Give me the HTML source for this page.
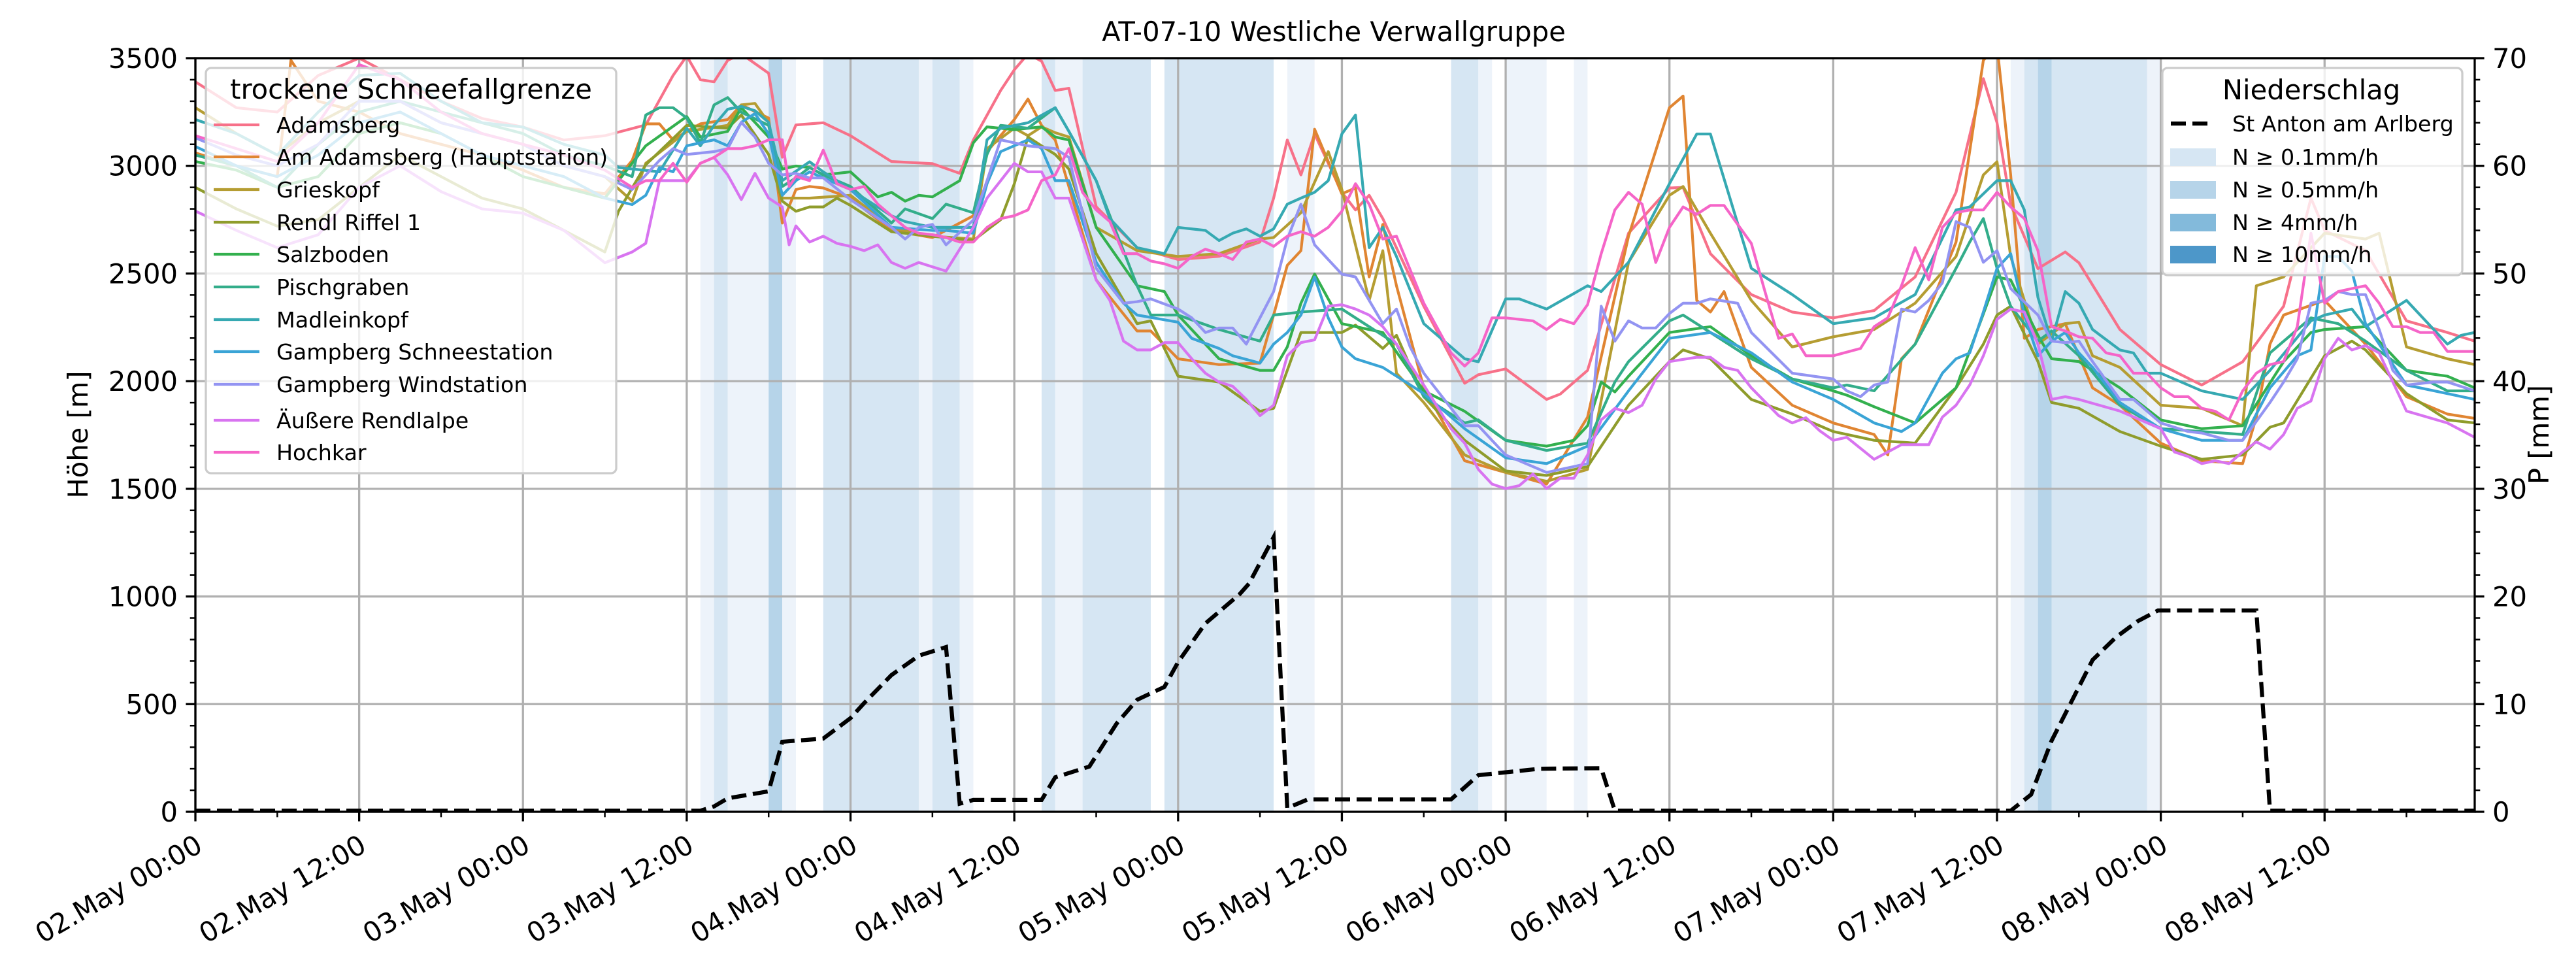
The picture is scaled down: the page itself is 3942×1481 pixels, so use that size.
<!DOCTYPE html>
<html><head><meta charset="utf-8"><style>
html,body{margin:0;padding:0;background:#fff;}
svg{display:block;font-family:"DejaVu Sans","Liberation Sans",sans-serif;}
</style></head><body>
<svg id="chart" width="3942" height="1481" viewBox="0 0 3942 1481" xmlns="http://www.w3.org/2000/svg">
<defs><clipPath id="plotclip"><rect x="299" y="89" width="3488" height="1153"/></clipPath></defs>
<rect x="0" y="0" width="3942" height="1481" fill="#fff"/>
<g id="bands" clip-path="url(#plotclip)"></g>
<g id="grid"></g>
<g id="lines" clip-path="url(#plotclip)"></g>
<g id="precip" clip-path="url(#plotclip)"></g>
<g id="axes"></g>
<text x="2041" y="63" font-size="41.7" text-anchor="middle">AT-07-10 Westliche Verwallgruppe</text>
<text transform="translate(134,665) rotate(-90)" font-size="41.7" text-anchor="middle">Höhe [m]</text>
<text transform="translate(3900,665) rotate(-90)" font-size="41.7" text-anchor="middle">P [mm]</text>
<g id="legend1"></g>
<g id="legend2"></g>
</svg>
<script>
const seriesNames = ["Adamsberg","Am Adamsberg (Hauptstation)","Grieskopf","Rendl Riffel 1","Salzboden","Pischgraben","Madleinkopf","Gampberg Schneestation","Gampberg Windstation","Äußere Rendlalpe","Hochkar"];
const seriesColors = ["#f77189","#e08532","#b59d32","#8f9c2c","#33b04e","#33ad8a","#36a9b2","#3aa4d6","#9394f2","#d874f0","#f565c8"];
const sAdamsberg = [[0,3390],[3,3270],[6,3250],[9,3420],[12,3500],[15,3400],[18,3300],[21,3220],[24,3180],[27,3120],[30,3140],[33,3190],[35,3420],[36,3510],[37,3400],[38,3390],[39,3490],[40,3520],[42,3430],[43,3040],[44,3190],[46,3200],[48,3140],[51,3020],[54,3010],[56,2965],[57,3120],[59,3350],[60,3446],[61,3520],[62,3486],[63,3350],[64,3360],[66,2810],[69,2620],[72,2565],[75,2580],[78,2646],[79,2850],[80,3120],[81,2958],[82,3148],[84,2877],[85,2795],[86,2863],[87,2755],[90,2348],[93,1990],[94,2030],[96,2057],[99,1915],[100,1940],[102,2050],[105,2687],[108,2897],[109,2900],[111,2592],[114,2402],[117,2321],[120,2294],[123,2328],[126,2484],[129,2877],[131,3405],[132,3200],[133,2820],[135,2523],[137,2600],[138,2550],[141,2240],[144,2077],[147,1982],[150,2090],[153,2348],[155,2850],[156,2700],[159,2606],[162,2280],[165,2226],[167,2186]];
const sAmAdamsberg = [[0,3060],[3,3000],[6,2950],[7,3490],[9,3300],[12,3250],[15,3150],[18,3100],[21,3050],[24,2980],[27,2900],[30,2870],[32,3025],[33,3195],[34,3195],[35,3120],[36,3160],[37,3195],[39,3215],[40,3283],[42,3222],[43,2734],[44,2890],[45,2904],[46,2897],[48,2850],[51,2700],[54,2667],[57,2768],[58,3066],[60,3215],[61,3310],[62,3188],[63,3120],[66,2470],[69,2233],[70,2233],[72,2104],[75,2077],[78,2084],[79,2307],[80,2538],[81,2606],[82,3170],[84,2870],[85,2897],[86,2484],[87,2728],[88,2443],[90,1969],[93,1630],[96,1576],[99,1522],[102,1833],[105,2673],[108,3270],[109,3324],[110,2375],[111,2321],[112,2416],[114,2064],[117,1888],[120,1806],[123,1752],[124,1657],[125,2104],[126,2172],[129,2646],[131,3490],[132,3560],[133,2958],[134,2199],[135,2240],[137,2267],[138,2118],[139,1969],[141,1888],[144,1712],[147,1630],[150,1617],[151,1833],[152,2172],[153,2307],[156,2375],[159,2172],[162,1928],[165,1847],[167,1827]];
const sGrieskopf = [[0,3270],[3,3150],[6,3050],[9,3200],[12,3300],[15,3300],[18,3200],[21,3150],[24,3100],[27,3000],[30,2950],[32,2836],[33,3012],[36,3160],[39,3188],[40,3283],[41,3290],[42,3200],[43,2850],[45,2850],[48,2863],[51,2714],[54,2673],[57,2660],[58,3080],[60,3175],[61,3140],[62,3181],[63,3154],[64,3134],[66,2714],[69,2606],[72,2579],[75,2592],[78,2660],[79,2667],[81,2782],[83,3066],[84,2890],[86,2375],[87,2606],[88,2037],[90,1901],[93,1657],[96,1576],[99,1535],[102,1590],[105,2552],[108,2863],[109,2904],[111,2687],[114,2375],[117,2159],[120,2206],[123,2240],[126,2362],[129,2579],[131,2958],[132,3019],[133,2579],[135,2172],[137,2267],[138,2274],[139,2118],[141,2064],[144,1888],[147,1874],[150,1793],[151,2443],[153,2484],[156,2687],[159,2660],[160,2687],[162,2159],[165,2104],[167,2077]];
const sRendl = [[0,2900],[3,2800],[6,2720],[9,2750],[12,2900],[15,3050],[18,2950],[21,2850],[24,2800],[27,2700],[30,2600],[31,2789],[33,3005],[36,3188],[39,3175],[40,3236],[42,3053],[43,2836],[44,2789],[45,2809],[46,2809],[47,2850],[48,2816],[51,2694],[54,2673],[57,2653],[59,2750],[60,2917],[61,3134],[62,3093],[63,3053],[64,2985],[66,2592],[69,2267],[70,2280],[72,2023],[75,1996],[78,1860],[79,1874],[81,2226],[84,2226],[85,2260],[87,2152],[88,2213],[90,1928],[93,1725],[96,1583],[99,1562],[102,1603],[105,1888],[108,2091],[109,2145],[111,2104],[114,1915],[117,1847],[120,1766],[123,1725],[126,1712],[129,1969],[131,2172],[132,2307],[133,2348],[135,2091],[136,1901],[138,1874],[141,1766],[144,1698],[147,1637],[150,1657],[152,1786],[153,1806],[156,2118],[158,2186],[159,2145],[162,1942],[165,1820],[167,1806]];
const sSalzboden = [[0,3020],[3,2980],[6,2900],[9,2950],[12,3150],[15,3200],[18,3150],[21,3050],[24,2950],[27,2900],[30,2850],[33,3093],[36,3229],[37,3134],[39,3160],[40,3270],[42,3134],[43,2985],[44,2999],[45,2992],[46,2958],[48,2972],[50,2856],[51,2877],[52,2836],[53,2863],[54,2856],[56,2931],[57,3107],[58,3181],[60,3168],[62,3181],[63,3134],[64,3120],[66,2714],[69,2443],[71,2416],[72,2307],[75,2104],[78,2050],[79,2050],[80,2159],[81,2362],[82,2497],[84,2267],[87,2226],[90,1955],[93,1860],[96,1725],[99,1698],[101,1725],[102,1793],[103,1996],[104,1950],[105,2023],[108,2226],[111,2253],[114,2118],[117,2010],[120,1955],[121,1935],[123,1881],[126,1806],[129,1969],[132,2484],[133,2470],[135,2213],[136,2104],[138,2091],[141,1969],[144,1820],[147,1779],[150,1793],[153,2091],[155,2226],[156,2240],[159,2253],[162,2050],[165,2023],[167,1969]];
const sPischgraben = [[0,3050],[3,3000],[6,2900],[9,3100],[12,3250],[15,3300],[18,3250],[21,3200],[24,3150],[27,3050],[30,3000],[32,2950],[33,3236],[34,3270],[35,3270],[36,3222],[37,3107],[38,3283],[39,3317],[40,3249],[42,3188],[43,2904],[44,2944],[45,2992],[46,2958],[48,2904],[51,2734],[52,2800],[54,2755],[55,2822],[57,2782],[58,3053],[59,3188],[61,3175],[63,3270],[64,3160],[66,2931],[69,2443],[70,2307],[72,2307],[75,2240],[78,2186],[79,2307],[81,2321],[84,2335],[86,2253],[88,2172],[90,1928],[93,1806],[94,1820],[96,1725],[99,1678],[102,1712],[104,1996],[105,2091],[108,2280],[109,2307],[111,2226],[114,2104],[117,2010],[120,1969],[121,1982],[123,1955],[126,2172],[129,2524],[130,2646],[131,2755],[132,2524],[133,2348],[135,2186],[136,2233],[138,2118],[141,1888],[144,1779],[147,1766],[150,1752],[152,2131],[155,2294],[157,2267],[159,2186],[162,2050],[165,1955],[167,1955]];
const sMadleinkopf = [[0,3215],[3,3150],[6,3050],[9,3250],[12,3420],[15,3430],[18,3300],[21,3200],[24,3180],[27,3100],[30,3050],[31,2992],[34,2972],[36,3175],[37,3093],[38,3188],[39,3263],[40,3276],[41,3256],[42,3202],[43,2931],[45,3019],[46,2972],[48,2890],[51,2768],[52,2741],[54,2714],[57,2714],[58,3121],[59,3175],[61,3200],[63,3270],[64,3160],[66,2931],[67,2755],[69,2620],[71,2592],[72,2714],[74,2700],[75,2653],[76,2687],[77,2707],[78,2673],[79,2707],[80,2822],[81,2850],[82,2877],[83,2931],[84,3148],[85,3236],[86,2620],[87,2714],[88,2579],[90,2267],[93,2104],[94,2090],[96,2382],[97,2382],[99,2335],[102,2443],[103,2416],[105,2552],[108,2917],[110,3148],[111,3148],[114,2524],[117,2402],[120,2267],[123,2294],[126,2402],[129,2795],[130,2809],[132,2931],[133,2931],[134,2795],[135,2389],[136,2186],[137,2416],[138,2362],[139,2240],[141,2145],[142,2131],[143,2037],[144,2037],[147,1955],[150,1915],[152,2050],[155,2280],[156,2307],[158,2335],[159,2253],[162,2375],[165,2172],[166,2213],[167,2226]];
const sGampSchnee = [[0,3090],[3,3000],[6,2950],[9,3050],[12,3200],[15,3250],[18,3150],[21,3050],[24,3000],[27,2950],[30,2850],[32,2820],[33,2863],[34,2992],[35,2972],[36,3093],[38,3121],[39,3093],[40,3202],[41,3243],[42,3148],[43,2863],[44,2931],[45,2972],[46,2944],[48,2890],[51,2714],[54,2700],[55,2700],[57,2687],[58,2917],[59,3066],[61,3121],[62,3080],[63,2931],[64,2931],[66,2552],[68,2362],[69,2307],[72,2274],[73,2199],[75,2152],[76,2118],[78,2084],[79,2172],[80,2226],[81,2307],[82,2484],[83,2294],[84,2159],[85,2104],[87,2064],[90,1942],[93,1779],[96,1644],[99,1617],[102,1698],[105,1955],[108,2199],[111,2226],[114,2132],[117,1996],[120,1915],[123,1806],[125,1766],[126,1806],[128,2037],[129,2104],[130,2131],[131,2321],[132,2524],[133,2592],[134,2307],[135,2118],[136,2186],[137,2226],[138,2131],[139,2064],[141,1901],[144,1779],[147,1725],[150,1725],[152,1969],[154,2118],[155,2145],[156,2579],[157,2579],[158,2511],[159,2267],[162,1982],[165,1942],[167,1915]];
const sGampWind = [[0,3130],[3,3050],[6,3000],[9,3100],[12,3300],[15,3300],[18,3200],[21,3150],[24,3100],[27,3000],[30,2950],[32,2890],[34,3025],[35,3080],[36,3053],[38,3066],[39,3080],[40,3202],[41,3134],[42,3012],[43,2958],[44,2965],[45,2944],[46,2944],[48,2843],[51,2714],[52,2660],[53,2714],[54,2728],[55,2633],[57,2748],[58,2931],[59,3121],[61,3093],[63,3080],[64,3039],[66,2524],[68,2362],[69,2369],[70,2382],[72,2335],[73,2294],[74,2226],[75,2247],[76,2247],[77,2172],[79,2416],[80,2660],[81,2822],[82,2633],[84,2497],[85,2484],[86,2375],[87,2267],[88,2335],[89,2159],[90,2037],[93,1793],[94,1793],[96,1657],[99,1576],[102,1617],[103,2348],[104,2186],[105,2280],[106,2247],[107,2247],[108,2314],[109,2362],[110,2362],[111,2382],[113,2362],[114,2226],[117,2037],[120,2010],[121,1955],[122,1928],[123,1982],[124,1996],[125,2335],[126,2321],[127,2375],[128,2457],[129,2741],[130,2714],[131,2552],[132,2606],[133,2430],[135,2307],[136,2186],[137,2179],[138,2186],[139,2091],[141,1915],[142,1915],[144,1806],[146,1766],[147,1759],[149,1725],[150,1725],[152,1901],[153,1996],[154,2104],[155,2362],[156,2375],[157,2416],[158,2402],[159,2402],[160,2240],[161,2050],[162,1982],[164,1996],[165,1996],[167,1955]];
const sRendlalpe = [[0,2790],[3,2700],[6,2620],[9,2680],[12,2900],[15,3000],[18,2880],[21,2800],[24,2780],[27,2700],[30,2550],[32,2600],[33,2640],[34,2931],[36,2931],[37,3012],[38,3039],[39,2958],[40,2843],[41,2965],[42,2850],[43,2809],[43.5,2633],[44,2721],[45,2646],[46,2673],[47,2640],[48,2626],[49,2606],[50,2633],[51,2551],[52,2524],[53,2551],[54,2531],[55,2511],[57,2714],[58,2850],[59,2931],[60,3012],[61,2972],[62,2972],[63,2850],[64,2850],[66,2470],[67,2375],[68,2186],[69,2145],[70,2145],[71,2179],[72,2179],[73,2104],[74,2037],[75,1996],[76,1976],[77,1915],[78,1840],[79,1888],[80,2118],[81,2179],[82,2192],[83,2348],[84,2355],[85,2335],[86,2307],[87,2253],[88,2172],[90,1982],[92,1779],[93,1712],[94,1590],[95,1522],[96,1501],[97,1515],[98,1569],[99,1501],[100,1549],[101,1549],[102,1657],[103,1820],[104,1874],[105,1854],[106,1888],[107,2010],[108,2091],[110,2111],[111,2111],[112,2064],[113,2050],[114,1969],[116,1840],[117,1806],[118,1830],[119,1770],[120,1725],[121,1739],[123,1637],[124,1671],[125,1705],[127,1705],[128,1833],[129,1888],[130,1982],[131,2118],[132,2287],[133,2335],[134,2321],[135,2172],[136,1915],[137,1928],[138,1915],[141,1861],[144,1779],[145,1671],[146,1650],[147,1617],[148,1630],[149,1617],[150,1671],[151,1718],[152,1684],[153,1752],[154,1874],[155,1908],[156,2104],[157,2199],[158,2145],[159,2165],[160,2131],[162,1861],[165,1806],[167,1739]];
const sHochkar = [[0,3140],[3,3080],[6,3020],[9,3200],[12,3470],[15,3400],[18,3250],[21,3150],[24,3100],[27,3050],[30,2980],[32,2900],[33,2931],[34,2931],[35,3012],[36,2924],[37,3012],[38,3039],[39,3080],[40,3080],[41,3093],[42,3121],[43,3121],[43.5,2904],[44,2951],[45,2931],[46,3073],[47,2917],[48,2890],[49,2904],[50,2822],[51,2768],[52,2714],[53,2687],[54,2680],[55,2667],[56,2646],[57,2646],[58,2714],[59,2755],[60,2768],[61,2795],[62,2931],[63,2958],[64,3080],[65,2877],[66,2795],[67,2741],[68,2592],[69,2592],[70,2558],[71,2545],[72,2524],[73,2579],[74,2613],[75,2592],[76,2565],[77,2646],[78,2660],[79,2626],[80,2673],[81,2694],[82,2673],[83,2714],[84,2789],[85,2917],[86,2822],[87,2660],[88,2673],[90,2362],[92,2131],[93,2070],[94,2131],[95,2294],[96,2294],[98,2280],[99,2240],[100,2287],[101,2267],[102,2355],[103,2592],[104,2795],[105,2877],[106,2822],[107,2551],[108,2714],[109,2809],[110,2775],[111,2816],[112,2816],[113,2728],[114,2640],[115,2416],[116,2199],[117,2219],[118,2118],[120,2118],[122,2152],[123,2253],[124,2294],[125,2443],[126,2620],[127,2470],[128,2714],[129,2782],[130,2795],[131,2795],[132,2877],[133,2809],[134,2755],[135,2606],[136,2253],[137,2233],[138,2206],[139,2199],[140,2131],[141,2118],[142,2037],[143,2037],[144,1969],[145,1928],[146,1928],[147,1874],[148,1860],[149,1820],[150,1955],[151,2037],[152,2077],[153,2091],[154,2253],[155,2687],[156,2362],[157,2416],[158,2430],[159,2443],[160,2362],[161,2253],[162,2253],[163,2226],[164,2226],[165,2138],[167,2138]];
const precipStAnton = [[0,0.1],[37,0.1],[38,0.5],[39,1.25],[42,1.9],[43,6.5],[46,6.8],[48,8.7],[49,10.1],[51,12.7],[53,14.5],[55,15.3],[56,0.75],[57,1.1],[62,1.1],[63,3.2],[65.5,4.2],[67.5,8.2],[69,10.4],[71,11.6],[72,13.9],[74,17.5],[76.5,20.2],[77.2,21.2],[79,25.5],[80,0.35],[81.5,1.15],[92,1.15],[94,3.4],[98.5,4.0],[103,4.05],[104,0.1],[133,0.1],[134.5,1.6],[136,6.6],[139,14.1],[140.7,16.2],[142.3,17.7],[143.8,18.7],[151,18.7],[152,0.1],[167,0.1]];
const bandStart = [37,38,39,42,43,46,53,54,56,62,63,65,71,80,92,94,96,101,133,134,135,136,143];
const bandEnd   = [38,39,42,43,44,53,54,56,57,63,65,70,79,82,94,95,99,102,134,135,136,143,144];
const bandLevel = [0,1,0,2,0,1,0,1,0,1,0,1,1,0,1,0,0,0,0,1,2,1,0];
const xTickLabels = ["02.May 00:00","02.May 12:00","03.May 00:00","03.May 12:00","04.May 00:00","04.May 12:00","05.May 00:00","05.May 12:00","06.May 00:00","06.May 12:00","07.May 00:00","07.May 12:00","08.May 00:00","08.May 12:00"];
const yTicks = [0,500,1000,1500,2000,2500,3000,3500];
const y2Ticks = [0,10,20,30,40,50,60,70];
const legendLevels = ["N ≥ 0.1mm/h","N ≥ 0.5mm/h","N ≥ 4mm/h","N ≥ 10mm/h"];

const allSeries = [sAdamsberg,sAmAdamsberg,sGrieskopf,sRendl,sSalzboden,sPischgraben,sMadleinkopf,sGampSchnee,sGampWind,sRendlalpe,sHochkar];
const bandColors = ["#edf3fa","#d6e6f3","#b6d4e9","#83badb","#4d97c9"];
const NS="http://www.w3.org/2000/svg";
const L=299,R=3787,T=89,B=1242,HMAX=167;
function X(h){return L+h*(R-L)/HMAX;}
function Y(v){return B-v*(B-T)/3500;}
function Y2(p){return B-p*(B-T)/70;}
function mk(tag,attrs,parent){const e=document.createElementNS(NS,tag);for(const k in attrs)e.setAttribute(k,attrs[k]);parent.appendChild(e);return e;}
const gB=document.getElementById('bands'),gG=document.getElementById('grid'),gL=document.getElementById('lines'),gP=document.getElementById('precip'),gA=document.getElementById('axes');
for(let i=0;i<bandStart.length;i++){
  const r=mk('rect',{x:X(bandStart[i]),y:T,width:X(bandEnd[i])-X(bandStart[i]),height:B-T,fill:bandColors[bandLevel[i]]},gB);
  
  
}
for(let i=0;i<xTickLabels.length;i++){
  const x=X(i*12);
  const l=mk('line',{x1:x,x2:x,y1:T,y2:B,stroke:'#b0b0b0','stroke-width':3.3},gG);
  
  
}
for(const v of yTicks){
  const l=mk('line',{x1:L,x2:R,y1:Y(v),y2:Y(v),stroke:'#b0b0b0','stroke-width':3.3},gG);
  
  
}
allSeries.forEach((s,i)=>{
  const p=mk('polyline',{points:s.map(d=>X(d[0]).toFixed(1)+','+Y(d[1]).toFixed(1)).join(' '),fill:'none',stroke:seriesColors[i],'stroke-width':4.2,'stroke-linejoin':'round'},gL);
  
  
});
const pl=mk('polyline',{points:precipStAnton.map(d=>X(d[0]).toFixed(1)+','+Y2(d[1]).toFixed(1)).join(' '),fill:'none',stroke:'#000','stroke-width':6.25,'stroke-dasharray':'23 10'},gP);


const fr=mk('rect',{x:L,y:T,width:R-L,height:B-T,fill:'none',stroke:'#000','stroke-width':3.3},gA);


for(let h=0;h<=HMAX;h+=6){
  const major=h%12===0;
  const t=mk('line',{x1:X(h),x2:X(h),y1:B,y2:B+(major?14.6:8.3),stroke:'#000','stroke-width':major?3.3:2.5},gA);
  
  
}
xTickLabels.forEach((lab,i)=>{
  const x=X(i*12);
  const t=mk('text',{transform:`translate(${x-2},${B+32}) rotate(-30)`,'font-size':41.7,'text-anchor':'end','dominant-baseline':'hanging'},gA);
  t.textContent=lab;
  
  
});
for(let v=0;v<=3500;v+=100){
  const major=v%500===0;
  const t=mk('line',{x1:L-(major?14.6:8.3),x2:L,y1:Y(v),y2:Y(v),stroke:'#000','stroke-width':major?3.3:2.5},gA);
  
  
}
yTicks.forEach(v=>{
  const t=mk('text',{x:L-27,y:Y(v)+15,'font-size':41.7,'text-anchor':'end'},gA);
  t.textContent=String(v);
  
  
});
for(let p=0;p<=70;p+=2){
  const major=p%10===0;
  const t=mk('line',{x1:R,x2:R+(major?14.6:8.3),y1:Y2(p),y2:Y2(p),stroke:'#000','stroke-width':major?3.3:2.5},gA);
  
  
}
y2Ticks.forEach(p=>{
  const t=mk('text',{x:R+27,y:Y2(p)+15,'font-size':41.7,'text-anchor':'start'},gA);
  t.textContent=String(p);
  
  
});
const g1=document.getElementById('legend1');
const b1=mk('rect',{x:315,y:104,width:628,height:620,rx:8,fill:'#fff','fill-opacity':0.8,stroke:'#cccccc','stroke-width':3.3},g1);


const t1=mk('text',{x:629,y:151,'font-size':41.7,'text-anchor':'middle'},g1);
t1.textContent='trockene Schneefallgrenze';


const legY=[191,240,290,340,389,439,489,538,588,643,692];
seriesNames.forEach((n,i)=>{
  const l=mk('line',{x1:327,x2:397,y1:legY[i],y2:legY[i],stroke:seriesColors[i],'stroke-width':4.2},g1);
  
  
  const t=mk('text',{x:423,y:legY[i]+12,'font-size':33.3},g1);
  t.textContent=n;
  
  
});
const g2=document.getElementById('legend2');
const b2=mk('rect',{x:3309,y:104,width:459,height:317,rx:8,fill:'#fff','fill-opacity':0.8,stroke:'#cccccc','stroke-width':3.3},g2);


const t2=mk('text',{x:3537,y:152,'font-size':41.7,'text-anchor':'middle'},g2);
t2.textContent='Niederschlag';


const dl=mk('line',{x1:3322,x2:3380,y1:189,y2:189,stroke:'#000','stroke-width':6.25,'stroke-dasharray':'23 10'},g2);


const dt=mk('text',{x:3416,y:201,'font-size':33.3},g2);
dt.textContent='St Anton am Arlberg';


const leg2Y=[240,290,340,389];
legendLevels.forEach((n,i)=>{
  const r=mk('rect',{x:3321,y:leg2Y[i]-13,width:70,height:27,fill:bandColors[i+1]},g2);
  
  
  const t=mk('text',{x:3416,y:leg2Y[i]+12,'font-size':33.3},g2);
  t.textContent=n;
  
  
});
</script>
</body></html>
